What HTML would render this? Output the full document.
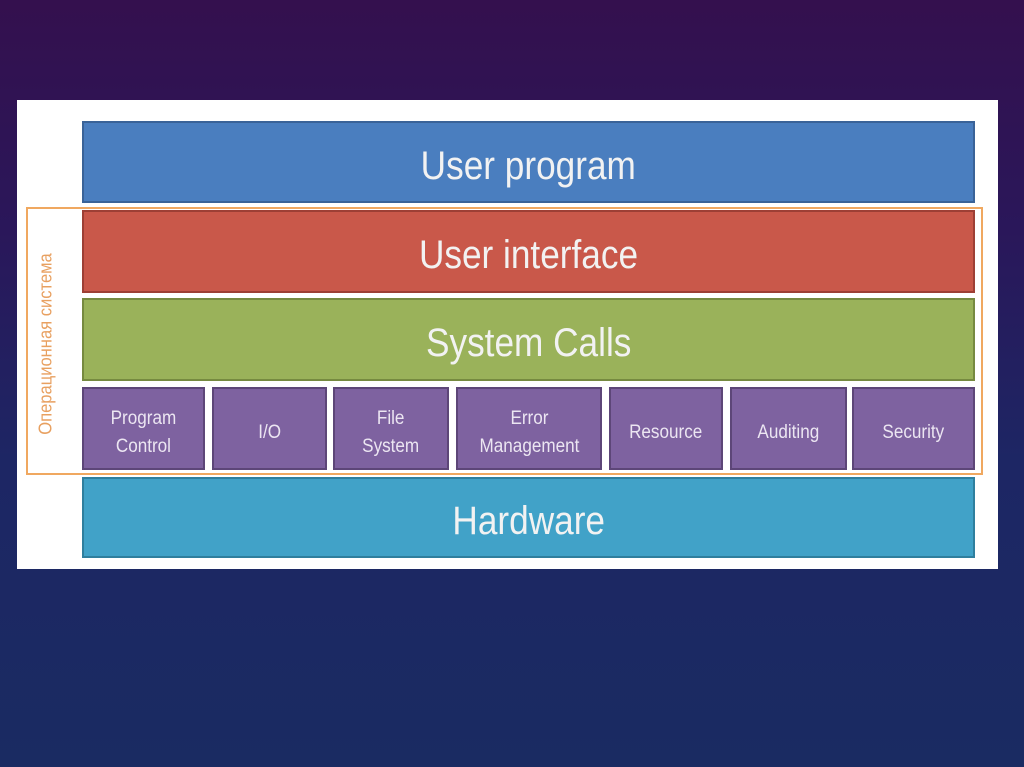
<!DOCTYPE html>
<html><head><meta charset="utf-8"><style>
*{margin:0;padding:0;box-sizing:border-box}
body{width:1024px;height:767px;overflow:hidden;position:relative;font-family:"Liberation Sans","DejaVu Sans",sans-serif;
background:linear-gradient(180deg,#34104e 0%,#2a175a 30%,#1d2664 60%,#1a2b62 100%);}
.panel{position:absolute;left:17px;top:100px;width:981px;height:469px;background:#fff}
.b{position:absolute;color:#f2f2f2;display:flex;align-items:center;justify-content:center;text-align:center;border:2px solid rgba(0,0,0,0.25)}
.big{font-size:40px;padding-top:8px}
.big span{display:inline-block;transform:scaleX(0.88)}
.p{background:#7e62a0;border-color:#5d4678;font-size:19px;line-height:28px;color:#ece6f2;padding-top:8px}
.p span{display:inline-block;transform:scaleX(0.9)}
.frame{position:absolute;left:26px;top:207px;width:957px;height:268px;border:2px solid #f0a860}
.lab{position:absolute;left:46px;top:344px;transform:translate(-50%,-50%) rotate(-90deg) scaleX(0.92);color:#e8a060;font-size:18px;white-space:nowrap}
</style></head><body>
<div class="panel"></div>
<div class="frame"></div>
<div class="lab">Операционная система</div>
<div class="b big" style="left:82px;top:121px;width:893px;height:82px;background:#4a7ebf;border-color:#3a6398"><span>User program</span></div>
<div class="b big" style="left:82px;top:210px;width:893px;height:83px;background:#c9584a;border-color:#9d3f35"><span>User interface</span></div>
<div class="b big" style="left:82px;top:298px;width:893px;height:83px;background:#9ab25a;border-color:#768a40"><span>System Calls</span></div>
<div class="b p" style="left:82px;top:387px;width:123px;height:83px"><span>Program<br>Control</span></div>
<div class="b p" style="left:212px;top:387px;width:115px;height:83px"><span>I/O</span></div>
<div class="b p" style="left:333px;top:387px;width:116px;height:83px"><span>File<br>System</span></div>
<div class="b p" style="left:456px;top:387px;width:146px;height:83px"><span>Error<br>Management</span></div>
<div class="b p" style="left:609px;top:387px;width:114px;height:83px"><span>Resource</span></div>
<div class="b p" style="left:730px;top:387px;width:117px;height:83px"><span>Auditing</span></div>
<div class="b p" style="left:852px;top:387px;width:123px;height:83px"><span>Security</span></div>
<div class="b big" style="left:82px;top:477px;width:893px;height:81px;background:#41a2c8;border-color:#2f7f9e"><span>Hardware</span></div>
</body></html>
